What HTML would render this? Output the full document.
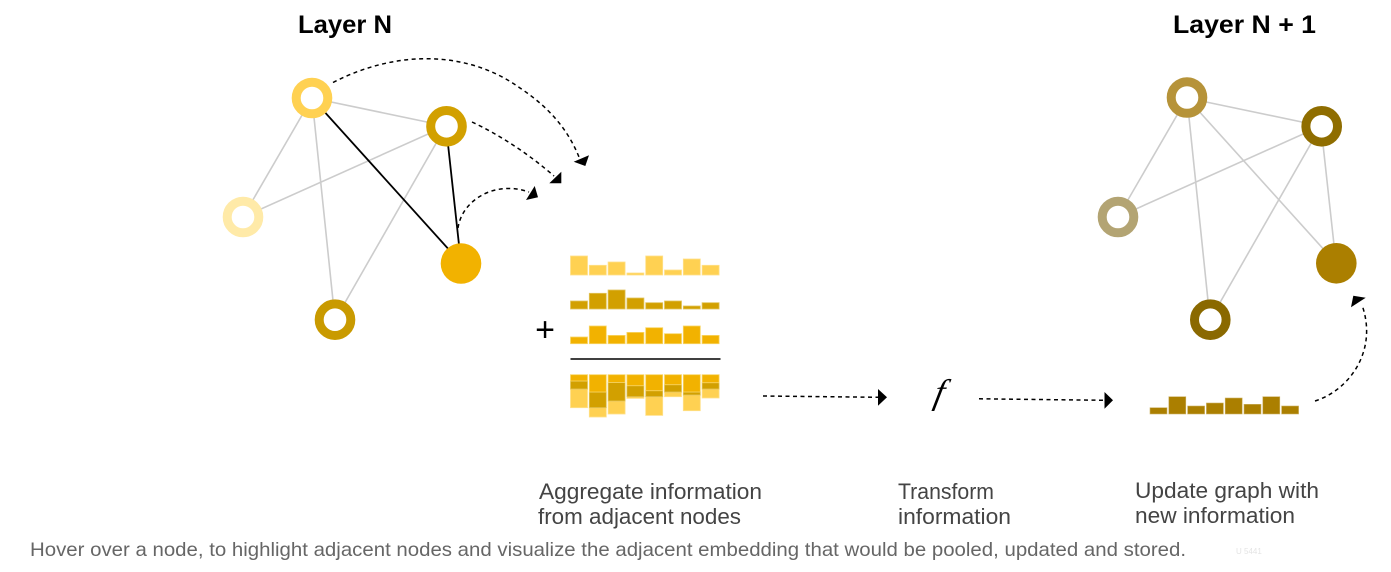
<!DOCTYPE html>
<html>
<head>
<meta charset="utf-8">
<style>
html,body{margin:0;padding:0;background:#fff;width:1391px;height:572px;overflow:hidden}
svg{display:block}
text{font-family:"Liberation Sans",sans-serif}
.t{font-weight:bold;font-size:25px;fill:#000}
.c{font-size:22.5px;fill:#444}
.e{stroke:#ccc;stroke-width:1.6}
.k{stroke:#000;stroke-width:1.8}
.d{fill:none;stroke:#000;stroke-width:1.5;stroke-dasharray:4 3.5}
.a rect{fill:#ffd152;stroke:#ffe08a;stroke-width:.8}
.b rect{fill:#d2a000;stroke:#e2c45c;stroke-width:.8}
.g rect{fill:#f2b200;stroke:#f8d566;stroke-width:.8}
.o rect{fill:#ab7f00;stroke:#cdb266;stroke-width:.6}
</style>
</head>
<body>
<svg width="1391" height="572" viewBox="0 0 1391 572" xmlns="http://www.w3.org/2000/svg">
<text class="t" x="298" y="33" textLength="94" lengthAdjust="spacingAndGlyphs">Layer N</text>
<text class="t" x="1173" y="33" textLength="143" lengthAdjust="spacingAndGlyphs">Layer N + 1</text>

<!-- Left graph -->
<g>
<line class="e" x1="312" y1="98" x2="446" y2="126"/>
<line class="e" x1="312" y1="98" x2="243" y2="217"/>
<line class="e" x1="312" y1="98" x2="335" y2="320"/>
<line class="e" x1="446" y1="126" x2="243" y2="217"/>
<line class="e" x1="446" y1="126" x2="335" y2="320"/>
<line class="k" x1="312" y1="98" x2="461" y2="263"/>
<line class="k" x1="446" y1="126" x2="461" y2="263"/>
<circle cx="312" cy="98" r="15.8" fill="#fff" stroke="#ffd152" stroke-width="9"/>
<circle cx="446.5" cy="126.3" r="15.8" fill="#fff" stroke="#d2a000" stroke-width="9"/>
<circle cx="243" cy="217" r="15.8" fill="#fff" stroke="#ffeaa8" stroke-width="9"/>
<circle cx="335" cy="319.7" r="15.8" fill="#fff" stroke="#c99a00" stroke-width="9"/>
<circle cx="461" cy="263.5" r="20.3" fill="#f2b200"/>
</g>

<!-- Right graph -->
<g>
<line class="e" x1="1187" y1="98" x2="1321" y2="126"/>
<line class="e" x1="1187" y1="98" x2="1118" y2="217"/>
<line class="e" x1="1187" y1="98" x2="1210" y2="320"/>
<line class="e" x1="1321" y1="126" x2="1118" y2="217"/>
<line class="e" x1="1321" y1="126" x2="1210" y2="320"/>
<line class="e" x1="1187" y1="98" x2="1336" y2="263"/>
<line class="e" x1="1321" y1="126" x2="1336" y2="263"/>
<circle cx="1187" cy="97.5" r="15.8" fill="#fff" stroke="#b69339" stroke-width="9"/>
<circle cx="1321.7" cy="126.3" r="15.8" fill="#fff" stroke="#8f6d00" stroke-width="9"/>
<circle cx="1118" cy="217" r="15.8" fill="#fff" stroke="#b3a473" stroke-width="9"/>
<circle cx="1210.3" cy="319.7" r="15.8" fill="#fff" stroke="#8a6900" stroke-width="9"/>
<circle cx="1336.3" cy="263.3" r="20.3" fill="#ab7f00"/>
</g>

<!-- Dashed arrows -->
<path class="d" d="M333 82.5C400 48 470 52 520 88C550 108 568 130 579 157"/>
<polygon points="589,155.3 573.7,161.7 585.3,166"/>
<path class="d" d="M472 122C500 135 530 155 554 176"/>
<polygon points="561.3,171.7 549.3,183.3 561.3,183.3"/>
<path class="d" d="M458 228C462 200 495 180 529 192"/>
<polygon points="534.7,186 526,200 538,197.3"/>
<path class="d" d="M763 396 L879 397.3"/>
<polygon points="878,389 887,397.3 878,405.7"/>
<path class="d" d="M979 398.8 L1105 400.3"/>
<polygon points="1104.5,392 1113,400.3 1104.5,408.7"/>
<path class="d" d="M1315 401C1350 390 1378 350 1362 305"/>
<polygon points="1351,307.3 1365.7,297.7 1353.3,295.7"/>

<!-- Bars row 1 -->
<g class="a">
<rect x="570.5" y="256" width="17" height="19"/><rect x="589.3" y="265.3" width="17" height="9.7"/><rect x="608.1" y="262" width="17" height="13"/><rect x="626.9" y="273" width="17" height="2"/><rect x="645.7" y="256" width="17" height="19"/><rect x="664.5" y="270" width="17" height="5"/><rect x="683.3" y="259" width="17" height="16"/><rect x="702.1" y="265.3" width="17" height="9.7"/>
</g>
<!-- Bars row 2 -->
<g class="b">
<rect x="570.5" y="301" width="17" height="8"/><rect x="589.3" y="293.3" width="17" height="15.7"/><rect x="608.1" y="290" width="17" height="19"/><rect x="626.9" y="298" width="17" height="11"/><rect x="645.7" y="302.7" width="17" height="6.3"/><rect x="664.5" y="301" width="17" height="8"/><rect x="683.3" y="306" width="17" height="3"/><rect x="702.1" y="302.7" width="17" height="6.3"/>
</g>
<!-- Bars row 3 -->
<g class="g">
<rect x="570.5" y="337" width="17" height="6.7"/><rect x="589.3" y="326" width="17" height="17.7"/><rect x="608.1" y="335.4" width="17" height="8.3"/><rect x="626.9" y="332.4" width="17" height="11.3"/><rect x="645.7" y="327.7" width="17" height="16"/><rect x="664.5" y="333.7" width="17" height="10"/><rect x="683.3" y="326" width="17" height="17.7"/><rect x="702.1" y="335.4" width="17" height="8.3"/>
</g>
<line x1="570.5" y1="359" x2="720.5" y2="359" stroke="#000" stroke-width="1.5"/>

<!-- Stacked bars -->
<g class="a">
<rect x="570.5" y="389" width="17" height="18.7"/><rect x="589.3" y="407.7" width="17" height="9.3"/><rect x="608.1" y="401" width="17" height="13"/><rect x="626.9" y="396.7" width="17" height="1.7"/><rect x="645.7" y="396.7" width="17" height="18.7"/><rect x="664.5" y="392" width="17" height="4.7"/><rect x="683.3" y="395" width="17" height="15.7"/><rect x="702.1" y="389" width="17" height="9"/>
</g>
<g class="b">
<rect x="570.5" y="381" width="17" height="8"/><rect x="589.3" y="392" width="17" height="15.7"/><rect x="608.1" y="382.3" width="17" height="18.7"/><rect x="626.9" y="385.7" width="17" height="11"/><rect x="645.7" y="390.7" width="17" height="6"/><rect x="664.5" y="384.7" width="17" height="7.3"/><rect x="683.3" y="392" width="17" height="3"/><rect x="702.1" y="382.7" width="17" height="6.3"/>
</g>
<g class="g">
<rect x="570.5" y="374.7" width="17" height="6.3"/><rect x="589.3" y="374.7" width="17" height="17.3"/><rect x="608.1" y="374.7" width="17" height="7.7"/><rect x="626.9" y="374.7" width="17" height="11"/><rect x="645.7" y="374.7" width="17" height="16"/><rect x="664.5" y="374.7" width="17" height="10"/><rect x="683.3" y="374.7" width="17" height="17.3"/><rect x="702.1" y="374.7" width="17" height="8"/>
</g>

<!-- Output bars -->
<g class="o">
<rect x="1150" y="407.7" width="17" height="6.3"/><rect x="1168.8" y="396.7" width="17" height="17.3"/><rect x="1187.6" y="406" width="17" height="8"/><rect x="1206.4" y="403" width="17" height="11"/><rect x="1225.2" y="398" width="17" height="16"/><rect x="1244" y="404.3" width="17" height="9.7"/><rect x="1262.8" y="396.7" width="17" height="17.3"/><rect x="1281.6" y="406" width="17" height="8"/>
</g>

<text x="545" y="341" text-anchor="middle" font-size="34" fill="#000">+</text>
<text transform="translate(937.5 403.7) skewX(-12)" x="0" y="0" text-anchor="middle" font-size="35" font-style="italic" fill="#000" style="font-family:'Liberation Serif',serif">f</text>

<text class="c" x="539" y="499" textLength="223" lengthAdjust="spacingAndGlyphs">Aggregate information</text>
<text class="c" x="538" y="524" textLength="203" lengthAdjust="spacingAndGlyphs">from adjacent nodes</text>
<text class="c" x="898" y="499" textLength="96" lengthAdjust="spacingAndGlyphs">Transform</text>
<text class="c" x="898" y="524" textLength="113" lengthAdjust="spacingAndGlyphs">information</text>
<text class="c" x="1135" y="498" textLength="184" lengthAdjust="spacingAndGlyphs">Update graph with</text>
<text class="c" x="1135" y="523" textLength="160" lengthAdjust="spacingAndGlyphs">new information</text>

<text x="30" y="556" font-size="19.5" fill="#666" textLength="1156" lengthAdjust="spacingAndGlyphs">Hover over a node, to highlight adjacent nodes and visualize the adjacent embedding that would be pooled, updated and stored.</text>
<text x="1236" y="554" font-size="8" fill="#e4e4e4">U 5441</text>
</svg>
</body>
</html>
